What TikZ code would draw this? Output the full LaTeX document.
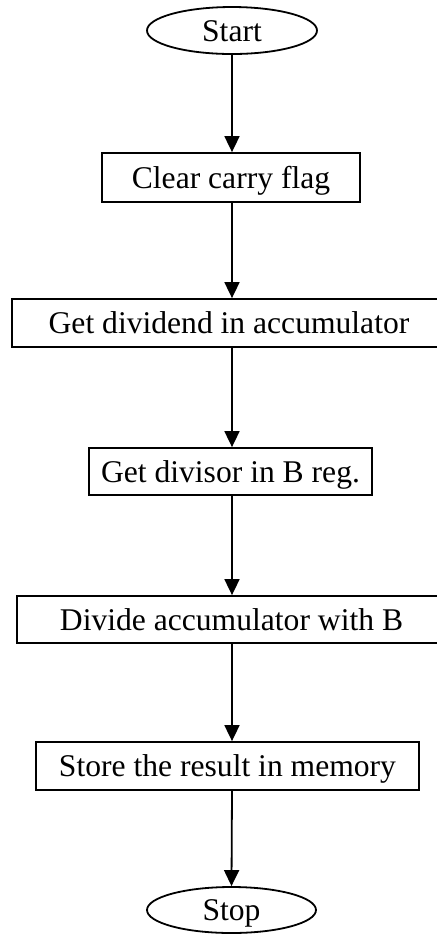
\documentclass[tikz,border=0pt]{standalone}
\usepackage{fontspec}
\setmainfont{Liberation Serif}
\usetikzlibrary{shapes.geometric,arrows.meta}
\begin{document}
\begin{tikzpicture}[x=0.5pt,y=-0.5pt,
  every node/.style={font=\fontsize{15.8pt}{19pt}\selectfont, inner sep=0pt,
    text height=10.5pt, text depth=0pt, line width=0.9pt},
  procbox/.style={draw, rectangle},
  terminal/.style={draw, ellipse},
  flow/.style={line width=0.9pt, -{Triangle[length=8pt,width=7.5pt]}}]
  \useasboundingbox (0,0) rectangle (437,934);
  \clip (0,0) rectangle (437,934);

  % terminals
  \node[terminal, minimum width=85pt, minimum height=23.5pt] (start) at (232,30.5) {Start};
  \node[terminal, minimum width=84.5pt, minimum height=23pt] (stop) at (231.5,910) {Stop};

  % process steps
  \node[procbox, minimum width=129pt, minimum height=24.5pt] (clr) at (231,177.5) {Clear carry flag};
  \node[procbox, minimum width=217pt, minimum height=24pt] (dvd) at (229,323) {Get dividend in accumulator};
  \node[procbox, minimum width=141.5pt, minimum height=23.5pt] (dvs) at (230.5,471.5) {Get divisor in B reg.};
  \node[procbox, minimum width=214.5pt, minimum height=23.5pt] (div) at (231.5,619.5) {Divide accumulator with B};
  \node[procbox, minimum width=191.5pt, minimum height=24pt] (sto) at (227.5,766) {Store the result in memory};

  % connectors
  \draw[flow] (start.south) -- (start.south |- clr.north);
  \draw[flow] (start.south |- clr.south) -- (start.south |- dvd.north);
  \draw[flow] (start.south |- dvd.south) -- (start.south |- dvs.north);
  \draw[flow] (start.south |- dvs.south) -- (start.south |- div.north);
  \draw[flow] (start.south |- div.south) -- (start.south |- sto.north);
  \draw[flow] (start.south |- sto.south) -- (stop.north);
\end{tikzpicture}
\end{document}
